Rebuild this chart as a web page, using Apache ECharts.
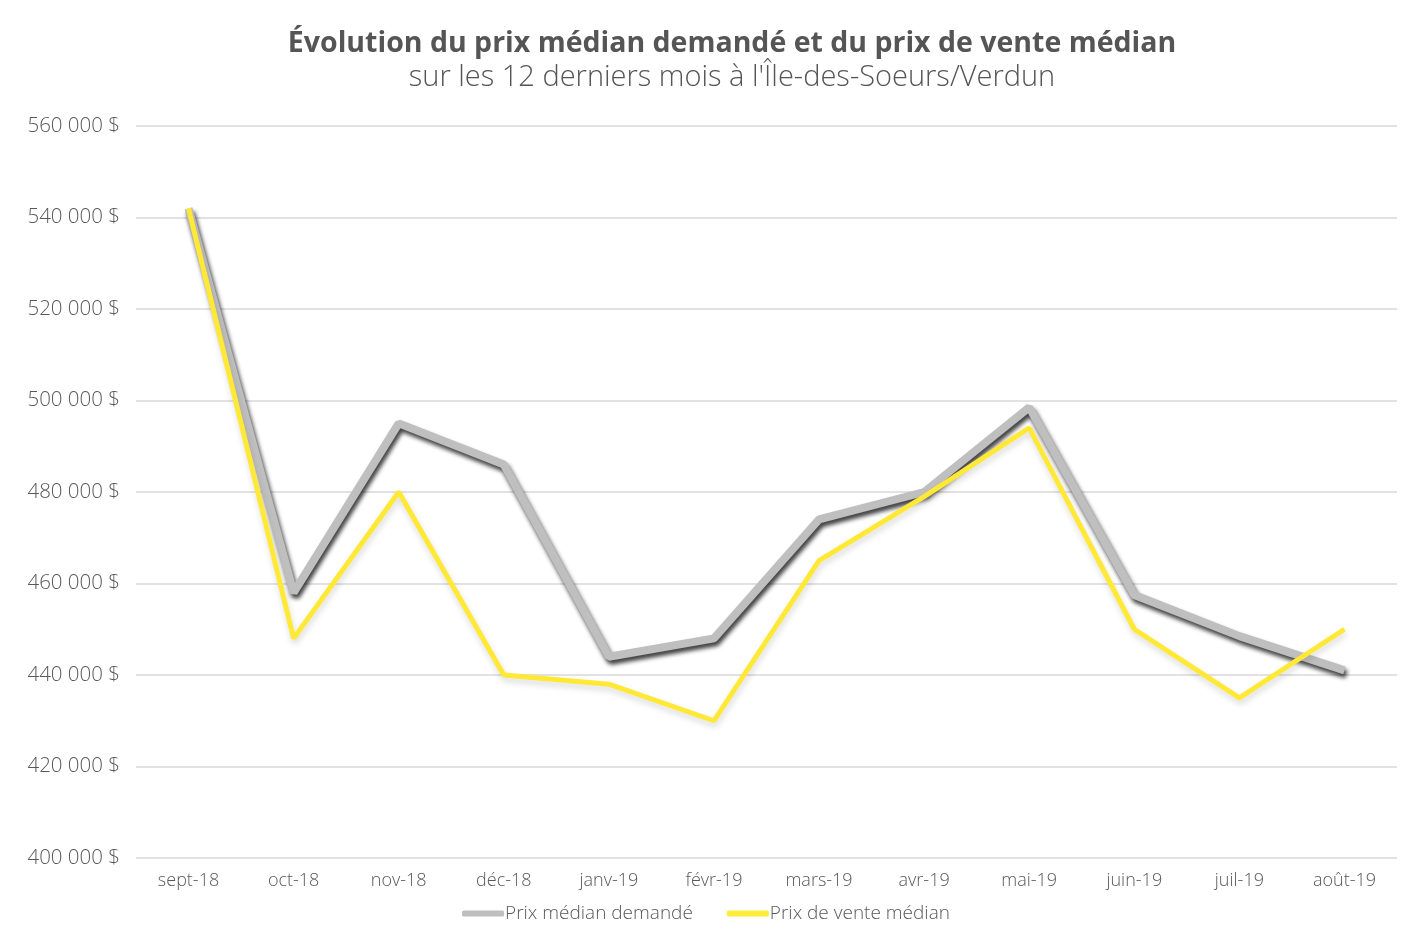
<!DOCTYPE html>
<html><head><meta charset="utf-8">
<script src="https://cdn.jsdelivr.net/npm/echarts@6/dist/echarts.min.js"></script>
<style>html,body{margin:0;padding:0;background:#fff}#c{width:1412px;height:938px}</style>
</head><body><div id="c"></div>
<script>
const categories = ['sept-18','oct-18','nov-18','déc-18','janv-19','févr-19','mars-19','avr-19','mai-19','juin-19','juil-19','août-19'];
const prixDemande = [542000,458000,495000,486000,444000,448000,474000,480000,498500,457500,448500,441000];
const prixVente = [542000,448000,480000,440000,438000,430000,465000,479000,494000,450000,435000,450000];
const yTicks = {min:400000, max:560000, interval:20000};
const fmt = v => String(v).replace(/\B(?=(\d{3})+(?!\d))/g,' ') + ' $';
const F = 'Open Sans';
const chart = echarts.init(document.getElementById('c'));
chart.setOption({
  animation:false,
  title:{
    text:'Évolution du prix médian demandé et du prix de vente médian',
    subtext:'sur les 12 derniers mois à l\'Île-des-Soeurs/Verdun',
    left:727, textAlign:'center', top:24, itemGap:5,
    textStyle:{fontFamily:F,fontWeight:'bold',fontSize:28.5,color:'#555'},
    subtextStyle:{fontFamily:F,fontWeight:300,fontSize:29,color:'#555'}
  },
  legend:{
    bottom:10, left:'center', itemWidth:42, itemHeight:6, itemGap:34, icon:'roundRect',
    textStyle:{fontFamily:F,fontSize:19,color:'#595959',fontWeight:300,padding:[0,0,0,-4]},
    data:['Prix médian demandé','Prix de vente médian']
  },
  grid:{left:136,right:15,top:126,bottom:80},
  xAxis:{
    type:'category', data:categories, boundaryGap:true,
    axisLine:{show:false}, axisTick:{show:false},
    axisLabel:{fontFamily:F,fontSize:18,color:'#595959',fontWeight:300,margin:14}
  },
  yAxis:{
    type:'value', min:yTicks.min, max:yTicks.max, interval:yTicks.interval,
    axisLine:{show:false}, axisTick:{show:false},
    axisLabel:{formatter:fmt,fontFamily:F,fontSize:20.5,color:'#595959',fontWeight:300,margin:16},
    splitLine:{lineStyle:{color:'#d9d9d9',width:1.5}}
  },
  series:[
    {name:'Prix médian demandé',type:'line',data:prixDemande,symbol:'none',
     itemStyle:{color:'#bfbfbf'},
     lineStyle:{color:'#bfbfbf',width:8,shadowColor:'rgba(0,0,0,0.75)',shadowBlur:4,shadowOffsetX:2,shadowOffsetY:4}},
    {name:'Prix de vente médian',type:'line',data:prixVente,symbol:'none',
     itemStyle:{color:'#ffeb3b'},
     lineStyle:{color:'#ffe936',width:5,shadowColor:'rgba(0,0,0,0.15)',shadowBlur:6,shadowOffsetX:1,shadowOffsetY:4}}
  ]
});
</script></body></html>
